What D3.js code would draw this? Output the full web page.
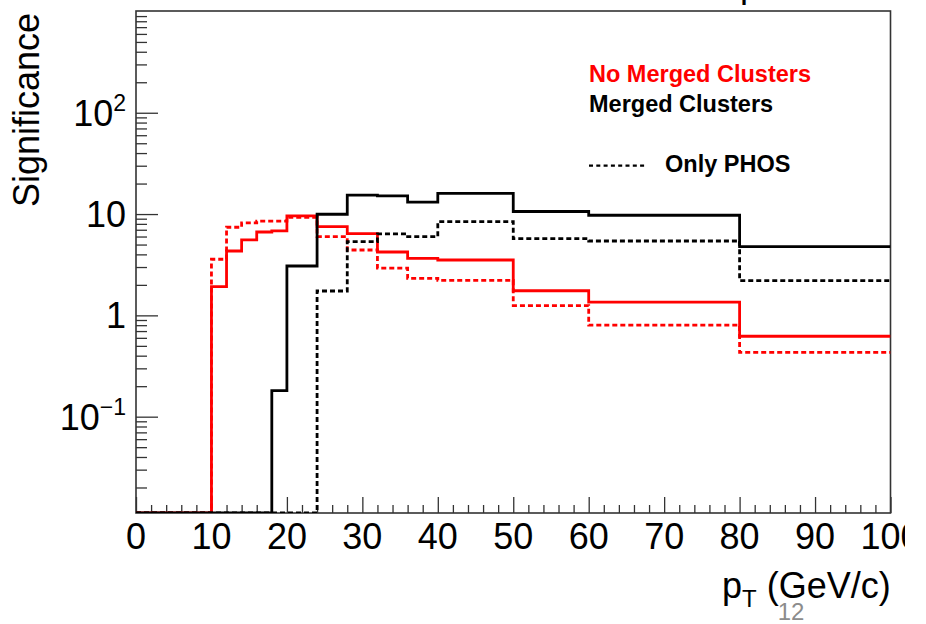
<!DOCTYPE html>
<html>
<head>
<meta charset="utf-8">
<script src="https://cdn.jsdelivr.net/npm/d3@7"></script>
<style>
  body { margin: 0; background: #fff; }
  svg { display: block; }
  text { font-family: "Liberation Sans", Arial, Helvetica, sans-serif; }
</style>
</head>
<body>
<svg id="chart" width="926" height="624"></svg>
<script>
// pT bin edges (GeV/c) shared by all histograms
const binEdges = [0, 2, 4, 6, 8, 10, 12, 14, 16, 18, 20, 24, 28, 32, 36, 40, 50, 60, 80, 100];

// Significance per bin
const noMerged      = [0, 0, 0, 0, 0, 1.92, 4.32, 5.55, 6.65, 6.81, 9.58, 7.51, 6.41, 4.22, 3.66, 3.52, 1.75, 1.35, 0.622];
const noMergedPhos  = [0, 0, 0, 0, 0, 3.58, 7.41, 8.2, 8.5, 8.5, 9.3, 5.98, 4.42, 2.92, 2.32, 2.22, 1.25, 0.80, 0.432];
const merged        = [0, 0, 0, 0, 0, 0, 0, 0, 0, 0.181, 3.07, 9.96, 15.4, 15.1, 13.1, 16.0, 10.6, 9.73, 4.77];
const mergedPhos    = [0, 0, 0, 0, 0, 0, 0, 0, 0, 0, 0, 1.74, 5.34, 6.36, 5.98, 8.41, 5.72, 5.42, 2.20];

// Axis ticks and labels
const xMajorTicks = [0, 10, 20, 30, 40, 50, 60, 70, 80, 90, 100];
const yMajorTicks = [100, 10, 1, 0.1];
const yTickBase   = ["10", "10", "1", "10"];
const yTickExp    = ["2", "", "", "\u22121"];

const xDomain = [0, 100];
const yDomain = [0.0112, 1010];

const svg = d3.select("#chart");
const frame = { left: 136, right: 890.5, top: 11, bottom: 513 };

const x = d3.scaleLinear().domain(xDomain).range([frame.left, frame.right]);
const y = d3.scaleLog().domain(yDomain).range([frame.bottom, frame.top]);

// Clip the histograms to the frame
svg.append("defs").append("clipPath").attr("id", "plotClip")
  .append("rect")
  .attr("x", frame.left).attr("y", frame.top - 1)
  .attr("width", frame.right - frame.left).attr("height", frame.bottom - frame.top + 1);

svg.append("defs").append("clipPath").attr("id", "pageClip")
  .append("rect").attr("x", 0).attr("y", 0).attr("width", 905).attr("height", 624);

// Ticks along the bottom axis (drawn inward)
const xMinor = d3.range(0, 101, 2).filter(v => v % 10 !== 0);
const xAxisG = svg.append("g").attr("transform", `translate(0,${frame.bottom})`);
xAxisG.call(d3.axisBottom(x).tickValues(xMajorTicks).tickSize(-16).tickFormat(""));
xAxisG.call(g => g.select(".domain").remove());
const xAxisMinor = svg.append("g").attr("transform", `translate(0,${frame.bottom})`);
xAxisMinor.call(d3.axisBottom(x).tickValues(xMinor).tickSize(-8).tickFormat(""));
xAxisMinor.call(g => g.select(".domain").remove());

// Ticks along the left axis (log, drawn inward)
const yMinor = [];
for (let e = -2; e <= 2; e++) {
  for (let m = 2; m <= 9; m++) {
    const v = m * Math.pow(10, e);
    if (v >= yDomain[0] && v <= yDomain[1]) yMinor.push(v);
  }
}
const yAxisG = svg.append("g").attr("transform", `translate(${frame.left},0)`);
yAxisG.call(d3.axisLeft(y).tickValues(yMajorTicks).tickSize(-22).tickFormat(""));
yAxisG.call(g => g.select(".domain").remove());
const yAxisMinor = svg.append("g").attr("transform", `translate(${frame.left},0)`);
yAxisMinor.call(d3.axisLeft(y).tickValues(yMinor).tickSize(-11).tickFormat(""));
yAxisMinor.call(g => g.select(".domain").remove());

svg.selectAll(".tick line").attr("stroke", "#333").attr("stroke-width", 1.3);

// Frame
svg.append("rect")
  .attr("x", frame.left).attr("y", frame.top)
  .attr("width", frame.right - frame.left).attr("height", frame.bottom - frame.top)
  .attr("fill", "none").attr("stroke", "#333").attr("stroke-width", 1.6);

// Histogram outlines as steps
function stepPoints(values) {
  const pts = [];
  values.forEach((v, i) => {
    pts.push([binEdges[i], v]);
    pts.push([binEdges[i + 1], v]);
  });
  return pts;
}
const stepLine = d3.line()
  .x(d => x(d[0]))
  .y(d => y(Math.max(d[1], yDomain[0])));

const series = [
  { values: noMergedPhos, color: "#ff0000", dash: "5,3" },
  { values: noMerged,     color: "#ff0000", dash: null },
  { values: mergedPhos,   color: "#000000", dash: "5,3" },
  { values: merged,       color: "#000000", dash: null }
];

const plot = svg.append("g").attr("clip-path", "url(#plotClip)");
plot.selectAll("path.hist")
  .data(series)
  .join("path")
  .attr("class", "hist")
  .attr("d", d => stepLine(stepPoints(d.values)))
  .attr("fill", "none")
  .attr("stroke", d => d.color)
  .attr("stroke-width", 2.8)
  .attr("stroke-dasharray", d => d.dash)
  .attr("stroke-linejoin", "miter");

// Bottom tick labels
svg.append("g").attr("clip-path", "url(#pageClip)")
  .selectAll("text")
  .data(xMajorTicks)
  .join("text")
  .attr("x", d => x(d))
  .attr("y", 549)
  .attr("text-anchor", "middle")
  .attr("font-size", 36)
  .attr("fill", "#000")
  .text(d => d);

// Left tick labels with exponents
const yLab = svg.append("g").selectAll("text")
  .data(yMajorTicks.map((v, i) => ({ v, base: yTickBase[i], exp: yTickExp[i] })))
  .join("text")
  .attr("x", 126)
  .attr("y", d => y(d.v) + 13)
  .attr("text-anchor", "end")
  .attr("font-size", 36)
  .attr("fill", "#000");
yLab.append("tspan").text(d => d.base);
yLab.filter(d => d.exp !== "")
  .append("tspan")
  .attr("font-size", 23)
  .attr("dy", -15)
  .text(d => d.exp);

// Axis titles
svg.append("text")
  .attr("transform", "translate(39,110) rotate(-90)")
  .attr("text-anchor", "middle")
  .attr("font-size", 36)
  .attr("fill", "#000")
  .text("Significance");

const xt = svg.append("text")
  .attr("x", 722).attr("y", 598)
  .attr("font-size", 36)
  .attr("fill", "#000");
xt.append("tspan").text("p");
xt.append("tspan").attr("font-size", 24).attr("dy", 9).text("T");
xt.append("tspan").attr("dy", -9).text(" (GeV/c)");

// Legend
const legend = svg.append("g").attr("font-weight", "bold").attr("font-size", 23.5);
legend.append("text").attr("x", 589).attr("y", 81.5).attr("fill", "#ff0000").text("No Merged Clusters");
legend.append("text").attr("x", 589).attr("y", 111.5).attr("fill", "#000").text("Merged Clusters");
legend.append("line")
  .attr("x1", 589).attr("x2", 647).attr("y1", 165.7).attr("y2", 165.7)
  .attr("stroke", "#000").attr("stroke-width", 2.2).attr("stroke-dasharray", "4,3.3");
legend.append("text").attr("x", 665).attr("y", 171.5).attr("fill", "#000").text("Only PHOS");

// Heading above the frame (only its descender falls inside the page)
svg.append("text").attr("x", 740).attr("y", -3).attr("font-size", 36).attr("fill", "#000").text("p");

// Page number
svg.append("text")
  .attr("x", 791).attr("y", 620)
  .attr("text-anchor", "middle")
  .attr("font-size", 24)
  .attr("font-family", "Carlito, 'Open Sans', 'Liberation Sans', sans-serif")
  .attr("fill", "#8c8c8c")
  .text("12");
</script>
</body>
</html>
